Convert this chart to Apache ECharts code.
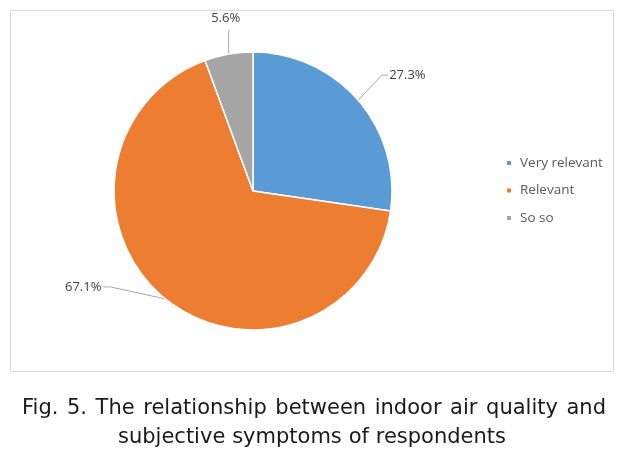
<!DOCTYPE html>
<html><head><meta charset="utf-8">
<script src="https://cdn.jsdelivr.net/npm/echarts@6/dist/echarts.min.js"></script>
<style>html,body{margin:0;padding:0;background:#fff}#c{width:625px;height:453px}</style>
</head><body><div id="c"></div>
<script>
const categories = ['Very relevant', 'Relevant', 'So so'];
const values = [27.3, 67.1, 5.6];
const colors = ['#5B9BD5', '#ED7D31', '#A5A5A5'];
const captionLines = ['Fig. 5. The relationship between indoor air quality and', 'subjective symptoms of respondents'];

// label offsets relative to the slice's anchor point on the rim (elbow, end, label anchor)
const labelGuides = [
  {elbow: [24, -25], end: [30, -25], label: [31, -25], align: 'left', vAlign: 'middle'},
  {elbow: [-55, -12], end: [-62, -12], label: [-64, -12], align: 'right', vAlign: 'middle'},
  {elbow: [0, -24], end: [0, -24], label: [-3, -29], align: 'center', vAlign: 'bottom'}
];

// caption: justified lines [left, right, middle y]
const captionFont = '21px "DejaVu Sans"';
const captionBoxes = [[22, 606, 409], [118, 506, 438]];
const ctx = document.createElement('canvas').getContext('2d');
ctx.font = captionFont;
const captionGraphics = [];
captionLines.forEach((line, li) => {
  const words = line.split(' ');
  const widths = words.map(w => ctx.measureText(w).width);
  const total = widths.reduce((a, b) => a + b, 0);
  const [l, r, y] = captionBoxes[li];
  const gap = (r - l - total) / (words.length - 1);
  let x = l;
  words.forEach((w, i) => {
    captionGraphics.push({type: 'text', x: x, y: y, style: {text: w, font: captionFont, fill: '#1a1a1a', align: 'left', verticalAlign: 'middle'}});
    x += widths[i] + gap;
  });
});

const chart = echarts.init(document.getElementById('c'), null, {renderer: 'canvas'});
chart.setOption({
  animation: false,
  color: colors,
  legend: {
    orient: 'vertical',
    left: 500, top: 150,
    icon: 'rect', itemWidth: 6, itemHeight: 6, itemGap: 11.5,
    textStyle: {fontFamily: 'Open Sans', fontSize: 13.5, lineHeight: 16, color: '#595959', padding: [0, 0, 0, 3]},
    data: categories
  },
  graphic: [
    {type: 'rect', shape: {x: 10.5, y: 10.5, width: 603, height: 361}, style: {fill: 'none', stroke: '#d9d9d9', lineWidth: 1}, z: -1}
  ].concat(captionGraphics),
  series: [{
    type: 'pie',
    center: [253, 191],
    radius: [0, 139],
    startAngle: 90,
    clockwise: true,
    itemStyle: {borderColor: '#fff', borderWidth: 1.5},
    label: {show: true, formatter: p => p.value.toFixed(1) + '%', fontFamily: 'Open Sans', fontSize: 13, color: '#404040'},
    labelLine: {show: true, length: 20, length2: 6, lineStyle: {color: '#a6a6a6', width: 1}},
    labelLayout: function (params) {
      const g = labelGuides[params.dataIndex];
      const p0 = params.labelLinePoints ? params.labelLinePoints[0] : null;
      if (!p0) return {};
      return {
        x: p0[0] + g.label[0], y: p0[1] + g.label[1],
        align: g.align, verticalAlign: g.vAlign,
        labelLinePoints: [p0, [p0[0] + g.elbow[0], p0[1] + g.elbow[1]], [p0[0] + g.end[0], p0[1] + g.end[1]]]
      };
    },
    emphasis: {disabled: true},
    data: categories.map((n, i) => ({name: n, value: values[i]}))
  }]
});
</script></body></html>
